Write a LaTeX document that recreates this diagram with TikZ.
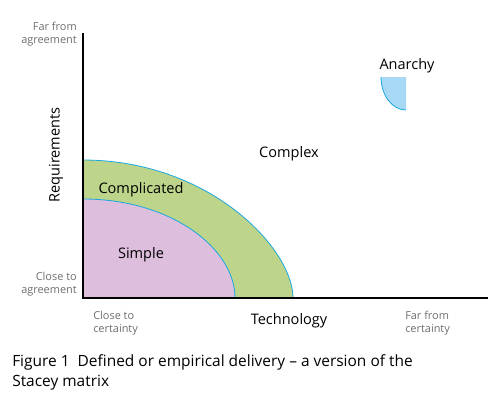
\documentclass[tikz,border=0pt]{standalone}
\usepackage{fontspec}
\setmainfont{Open Sans}
\definecolor{cgreen}{HTML}{BDD58A}
\definecolor{cpink}{HTML}{DDBEDD}
\definecolor{cblue}{HTML}{1AA7E1}
\definecolor{cbluefill}{HTML}{A7D9F5}
\definecolor{cgray}{HTML}{6D6E71}
\begin{document}
\begin{tikzpicture}[x=0.75pt,y=-0.75pt,
  small/.style={font=\fontsize{8.2pt}{9.6pt}\selectfont,text=cgray,inner sep=0pt,align=left},
  lab/.style={font=\fontsize{10.9pt}{12pt}\selectfont,inner sep=0pt},
  region/.style={draw=cblue,line width=0.6pt}]
\useasboundingbox (0,0) rectangle (500,405);
% regions
\path[region,fill=cgreen] (83,298) -- (83,160) .. controls (83+0.6*210,160) and (293,298-0.36*138) .. (293,298) -- cycle;
\path[region,fill=cpink] (83,298) -- (83,199) .. controls (83+0.58*152,199) and (235,298-0.5*99) .. (235,298) -- cycle;
\fill[white] (82,150) rectangle (83.3,299);
% anarchy
\fill[cbluefill] (381,77) .. controls (381,95) and (392,110) .. (406,110) -- (406,77) -- cycle;
\draw[cblue,line width=0.6pt] (381,77) .. controls (381,95) and (392,110) .. (406,110);
% axes
\coordinate (o) at (83,298);
\coordinate (ytop) at (83,33);
\coordinate (xend) at (488,298);
\draw[line width=0.8pt] (ytop) -- (o) -- (xend);
% labels
\node[small,align=right,anchor=north east] (far) at (77,22) {Far from\\agreement};
\node[small,align=right,anchor=north east] (close) at (77,272) {Close to\\agreement};
\node[small,anchor=north west] (cc) at (93,311) {Close to\\certainty};
\node[small,anchor=north west] (fc) at (405,311) {Far from\\certainty};
\node[lab,rotate=90] (req) at (56,155) {Requirements};
\node[lab] (tech) at (289,321) {Technology};
\node[lab] (anarchy) at (407,66) {Anarchy};
\node[lab] (complex) at (289,154) {Complex};
\node[lab] (complicated) at (141,190) {Complicated};
\node[lab] (simple) at (141,255) {Simple};
\node[font=\fontsize{11.6pt}{15pt}\selectfont,anchor=north west,inner sep=0pt,align=left] (cap) at (12,354) {Figure 1\ \ Defined or empirical delivery – a version of the\\Stacey matrix};
\end{tikzpicture}
\end{document}
